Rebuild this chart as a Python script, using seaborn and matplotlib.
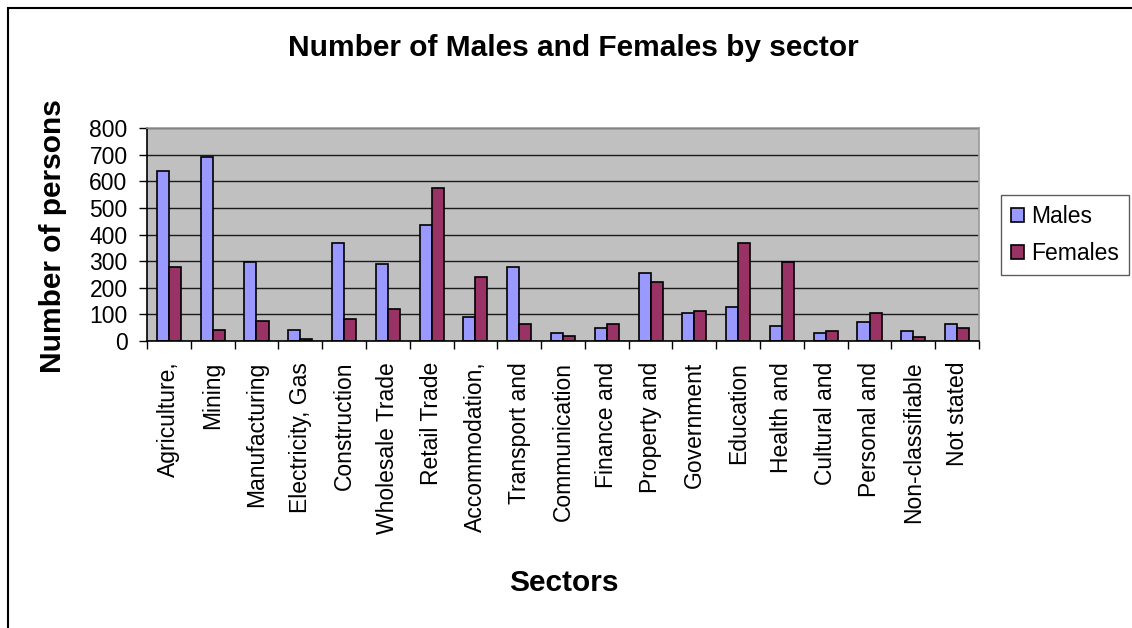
import matplotlib
matplotlib.use("Agg")
import matplotlib.pyplot as plt
from matplotlib.patches import Rectangle
from matplotlib.ticker import FixedLocator
import seaborn as sns
import pandas as pd
import numpy as np

sectors = ["Agriculture,", "Mining", "Manufacturing", "Electricity, Gas", "Construction",
           "Wholesale Trade", "Retail Trade", "Accommodation,", "Transport and",
           "Communication", "Finance and", "Property and", "Government", "Education",
           "Health and", "Cultural and", "Personal and", "Non-classifiable", "Not stated"]
males = [640, 690, 298, 42, 368, 290, 434, 90, 279, 29, 50, 256, 106, 128, 57, 29, 70, 36, 65]
females = [278, 42, 76, 6, 82, 119, 575, 242, 65, 20, 65, 220, 112, 369, 296, 36, 106, 14, 50]
series = ["Males", "Females"]
yticks = [0, 100, 200, 300, 400, 500, 600, 700, 800]

df = pd.DataFrame({
    "Sector": sectors * 2,
    "Persons": males + females,
    "Sex": [series[0]] * len(sectors) + [series[1]] * len(sectors),
})

sns.set_style("white")
plt.rcParams["font.family"] = ["Liberation Sans", "DejaVu Sans"]
plt.rcParams["text.color"] = "black"
plt.rcParams["axes.labelcolor"] = "black"
plt.rcParams["xtick.color"] = "black"
plt.rcParams["ytick.color"] = "black"

fig = plt.figure(figsize=(11.32, 6.28), dpi=100)
ax = fig.add_axes([147 / 1132, 1 - 341 / 628, (979 - 147) / 1132, (341 - 128) / 628])
ax.set_facecolor("#C0C0C0")

sns.barplot(data=df, x="Sector", y="Persons", hue="Sex", order=sectors,
            hue_order=series, palette=["#9999FF", "#993366"], width=0.55,
            edgecolor="black", linewidth=1.2, saturation=1, ax=ax, legend=True)

ax.set_ylim(0, 800)
ax.set_xlim(-0.5, len(sectors) - 0.5)
ax.set_yticks(yticks)
ax.yaxis.grid(True, color="#1a1a1a", linewidth=1.0)
ax.set_axisbelow(True)

ax.set_xticks(np.arange(len(sectors)))
ax.set_xticklabels(sectors, rotation=90, fontsize=16.5, va="top", ha="center", color="black")
ax.xaxis.set_minor_locator(FixedLocator(np.arange(len(sectors) + 1) - 0.5))
ax.tick_params(axis="x", which="major", length=0, pad=15)
ax.tick_params(axis="x", which="minor", length=6, width=1, color="black", direction="out", bottom=True)
ax.tick_params(axis="y", length=6, width=1, color="black", direction="out", left=True, pad=8,
               labelsize=16.5, labelcolor="black")
ax.set_xlabel("")
ax.set_ylabel("")

for side in ["left", "bottom"]:
    ax.spines[side].set_color("black")
    ax.spines[side].set_linewidth(1.2)
for side in ["top", "right"]:
    ax.spines[side].set_visible(True)
    ax.spines[side].set_color("#9a9a9a")
    ax.spines[side].set_linewidth(1.2)

handles, labels = ax.get_legend_handles_labels()
ax.legend_.remove()
leg = fig.legend(handles, labels, loc="upper left", bbox_to_anchor=(1001 / 1132, 1 - 195 / 628),
                 fontsize=16.5, frameon=True, fancybox=False, edgecolor="#333333",
                 handlelength=0.55, handleheight=0.55, handletextpad=0.3,
                 labelspacing=0.6, borderpad=0.45, borderaxespad=0)
leg.get_frame().set_linewidth(1.0)
for t in leg.get_texts():
    t.set_color("black")

fig.text(573 / 1132, 1 - 48 / 628, "Number of Males and Females by sector",
         fontsize=21.5, fontweight="bold", ha="center", va="center", color="black")
fig.text(564 / 1132, 1 - 583 / 628, "Sectors",
         fontsize=21.5, fontweight="bold", ha="center", va="center", color="black")
fig.text(53 / 1132, 1 - 236 / 628, "Number of persons",
         fontsize=21.5, fontweight="bold", ha="center", va="center", rotation=90, color="black")

fig.add_artist(Rectangle((8 / 1132, -0.1), 1.2, 1 - 8 / 628 + 0.1,
                         transform=fig.transFigure, fill=False,
                         edgecolor="black", linewidth=1.5, clip_on=False))

fig.savefig("out.png", dpi=100)
